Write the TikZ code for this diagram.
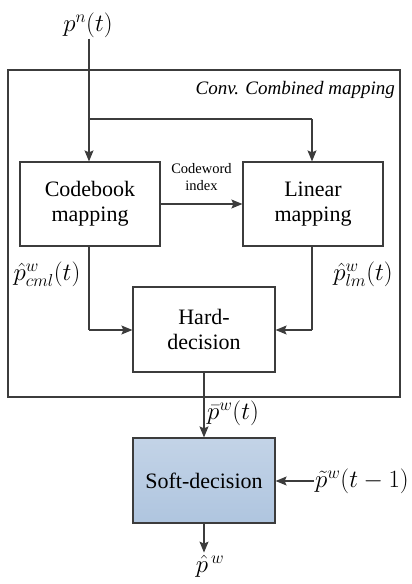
\documentclass[tikz,border=0pt]{standalone}
\usepackage{fontspec}
\setmainfont{Liberation Serif}
\usetikzlibrary{arrows.meta}
\definecolor{linegray}{HTML}{3C3C3C}
\definecolor{softblue}{HTML}{AFC5DF}
\tikzset{
  block/.style={draw=linegray, line width=1.2pt, fill=white, minimum width=140pt,
    minimum height=84pt, align=center, font=\rmfamily\fontsize{22}{25}\selectfont, inner sep=0pt},
  link/.style={draw=linegray, line width=1.2pt,
    -{Stealth[length=11pt,width=9pt,inset=2pt]}},
  wire/.style={draw=linegray, line width=1.2pt},
  sig/.style={font=\fontsize{25}{27}\selectfont, inner sep=1pt}
}
\begin{document}
\begin{tikzpicture}[x=1pt,y=-1pt]
  \useasboundingbox (0,0) rectangle (412,584);
  % enclosing frame of the combined mapping
  \node[draw=linegray, line width=1.2pt, minimum width=392pt, minimum height=327pt,
        inner sep=0pt] (frame) at (204,233.5) {};
  \node[anchor=east, font=\rmfamily\itshape\fontsize{19}{21}\selectfont, inner sep=0pt]
        (ftitle) at (395,90) {Conv. Combined mapping};

  % blocks
  \node[block] (cb) at (90,204) {Codebook\\mapping};
  \node[block] (lm) at (313,204) {Linear\\mapping};
  \node[block, minimum width=142pt, minimum height=85pt] (hd) at (204,329.5) {Hard-\\decision};
  \node[block, minimum width=142pt, minimum height=85pt, top color=softblue!75,
        bottom color=softblue] (sd) at (204,480.5) {Soft-decision};

  % signal labels
  \node[sig] (pin) at (88,25) {$p^{n}(t)$};
  \node[sig] (pcm) at (47,274) {$\hat{p}^{w}_{cml}(t)$};
  \node[sig] (plm) at (363,274) {$\hat{p}^{w}_{lm}(t)$};
  \node[sig, anchor=west] (pbar) at (206,413) {$\bar{p}^{w}(t)$};
  \node[sig, anchor=west] (pprev) at (314,481) {$\tilde{p}^{w}(t-1)$};
  \node[sig] (pout) at (210,566) {$\hat{p}^{\,w}$};

  % helper points
  \coordinate (split) at (89,119);
  \coordinate (splitR) at (312,119);
  \coordinate (cbdown) at (89,330);
  \coordinate (lmdown) at (312,330);

  % connectors
  \draw[wire] (pin.south -| split) -- (split) -- (splitR);
  \draw[link] (split) -- (split |- cb.north);
  \draw[link] (splitR) -- (splitR |- lm.north);
  \draw[link] (cb.east |- 0,204) -- node[above=9pt, align=center,
        font=\rmfamily\fontsize{14.5}{17}\selectfont] {Codeword\\index} (lm.west |- 0,204);
  \draw[wire] (cb.south -| cbdown) -- (cbdown);
  \draw[link] (cbdown) -- (hd.west |- cbdown);
  \draw[wire] (lm.south -| lmdown) -- (lmdown);
  \draw[link] (lmdown) -- (hd.east |- lmdown);
  \draw[link] (hd.south) -- (sd.north);
  \draw[link] (pprev.west) -- (sd.east |- pprev.west);
  \draw[link] (sd.south) -- ++(0,29);
\end{tikzpicture}
\end{document}
